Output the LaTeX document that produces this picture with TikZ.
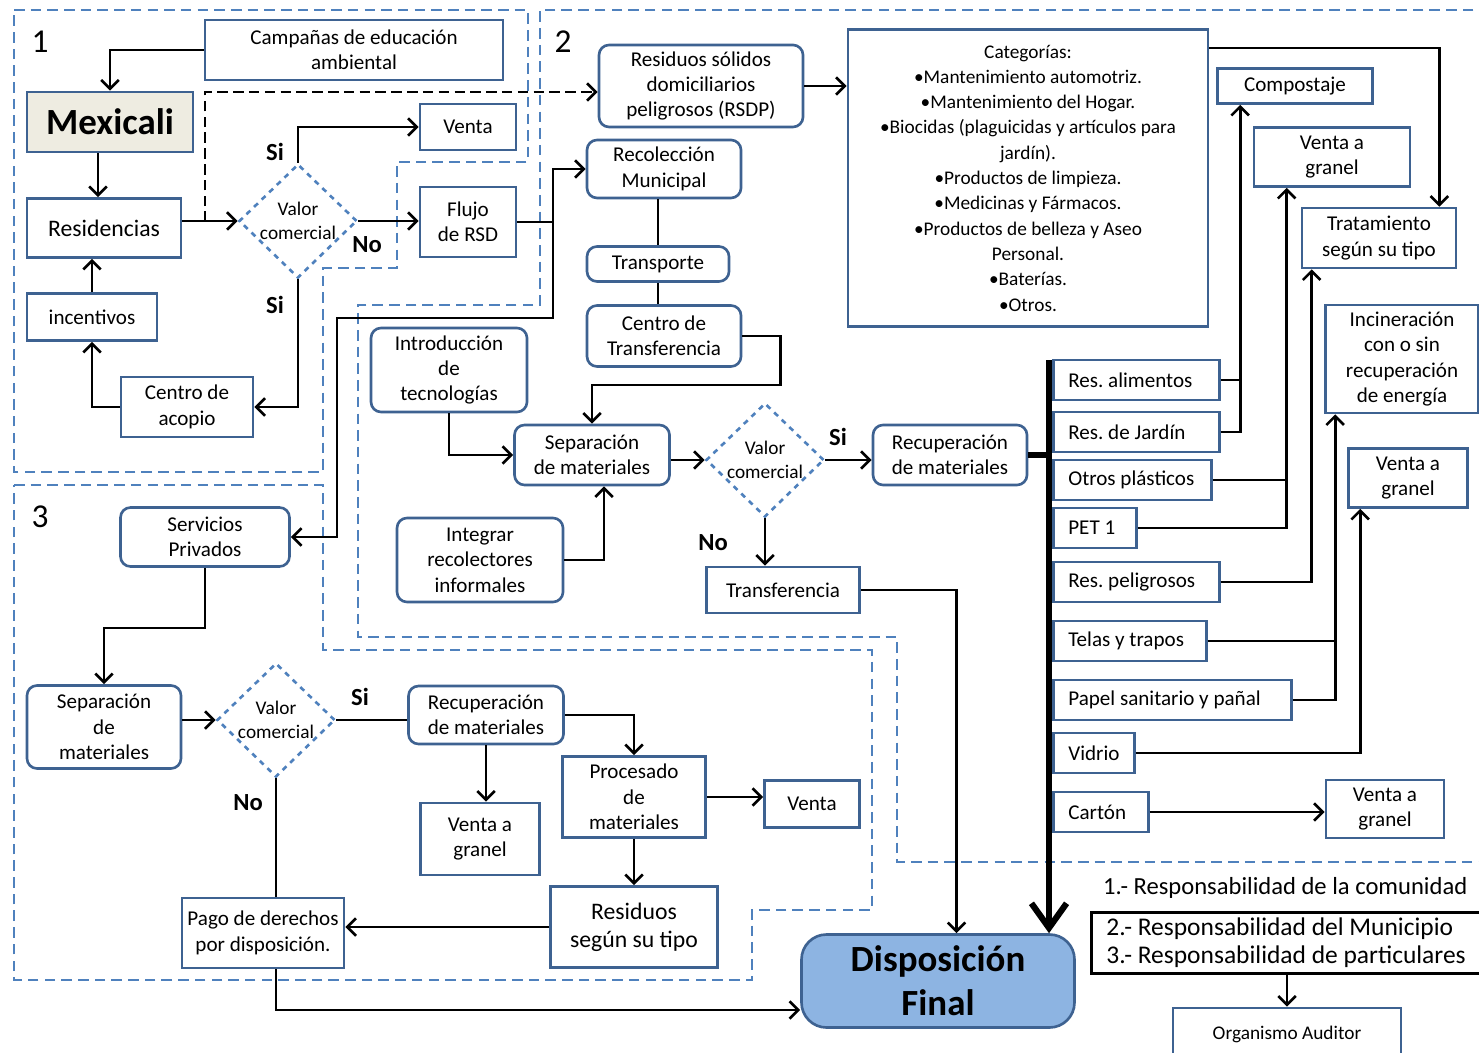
\documentclass[tikz,border=0pt]{standalone}
\usepackage{fontspec}
\setmainfont{Carlito}
\usetikzlibrary{positioning, arrows.meta, shapes.geometric}
\usepackage{xcolor}
\definecolor{boxblue}{RGB}{62,98,145}
\definecolor{regionblue}{RGB}{79,129,189}
\definecolor{mexfill}{RGB}{238,236,225}
\definecolor{dispfill}{RGB}{141,180,226}
\frenchspacing

\begin{document}
\begin{tikzpicture}[x=0.02cm, y=-0.02cm]
  \tikzset{
    boxsize/.style 2 args={
      minimum width=#1*0.02cm,
      minimum height=#2*0.02cm
    },
    box/.style={
      draw=boxblue,
      line width=1.5pt,
      fill=white,
      align=center,
      inner sep=1pt,
      font=\fontsize{12}{14.5}\selectfont
    },
    rbox/.style={
      box,
      rounded corners=0.2cm
    },
    material/.style={
      box,
      anchor=west,
      align=flush left,
      inner xsep=0.3cm,
      minimum height=0.8cm,
      text width=#1cm
    },
    decision/.style={
      diamond,
      draw=regionblue,
      dashed,
      line width=1.5pt,
      fill=white,
      align=center,
      inner sep=0pt,
      boxsize={118}{114},
      font=\fontsize{11}{13.5}\selectfont
    },
    region/.style={
      draw=regionblue,
      line width=1.3pt,
      dash pattern=on 6pt off 3.5pt
    },
    link/.style={line width=1.5pt},
    flow/.style={link, -{Straight Barb[length=5pt,width=10pt]}},
    answer/.style={font=\bfseries\fontsize{14}{16}\selectfont},
    zone/.style={font=\fontsize{19}{22}\selectfont}
  }

  \useasboundingbox (0,0) rectangle (1479,1053);
  \fill[white] (0,0) rectangle (1479,1053);

  % Dashed zones of responsibility
  \draw[region] (14,10) -- (528,10) -- (528,162) -- (397,162) -- (397,268)
    -- (323,268) -- (323,472) -- (14,472) -- cycle;
  \draw[region] (1490,10) -- (540,10) -- (540,305) -- (358,305) -- (358,637)
    -- (897,637) -- (897,862) -- (1490,862);
  \draw[region] (14,485) -- (323,485) -- (323,650) -- (872,650) -- (872,910)
    -- (752,910) -- (752,980) -- (14,980) -- cycle;

  \node[zone] (num1) at (40,42) {1};
  \node[zone] (num2) at (563,42) {2};
  \node[zone] (num3) at (40,517) {3};

  % Zone 1: community
  \node[box, boxsize={298}{60}] (campanas) at (354,50) {Campañas de educación\\ambiental};
  \node[box, boxsize={166}{60}, fill=mexfill, font=\bfseries\fontsize{21}{24}\selectfont] (mexicali) at (110,122) {Mexicali};
  \node[box, boxsize={154}{59}, font=\fontsize{13.5}{15}\selectfont] (residencias) at (104,228) {Residencias};
  \node[box, boxsize={130}{47}] (incentivos) at (92,317) {incentivos};
  \node[box, boxsize={132}{60}] (acopio) at (187,407) {Centro de\\acopio};
  \node[decision] (valorA) at (298,221) {Valor\\comercial};
  \node[box, boxsize={96}{46}] (ventaA) at (468,127) {Venta};
  \node[box, boxsize={96}{70}] (flujo) at (468,222) {Flujo\\de RSD};

  \node[answer] (siA) at (275,152) {Si};
  \node[answer] (noA) at (367,245) {No};
  \node[answer] (siB) at (275,305) {Si};

  % Zone 3: private services
  \node[rbox, boxsize={169}{59}] (servicios) at (205,537) {Servicios\\Privados};
  \node[rbox, boxsize={154}{83}] (separacionC) at (104,727) {Separación\\de\\materiales};
  \node[decision] (valorC) at (276,720) {Valor\\comercial};
  \node[rbox, boxsize={155}{58}] (recuperacionC) at (486,715) {Recuperación\\de materiales};
  \node[box, boxsize={119}{72}] (granelD) at (480,839) {Venta a\\granel};
  \node[box, boxsize={143}{81}] (procesado) at (634,797) {Procesado\\de\\materiales};
  \node[box, boxsize={95}{47}] (ventaC) at (812,804) {Venta};
  \node[box, boxsize={167}{81}, font=\fontsize{13.5}{16}\selectfont] (residuos) at (634,927) {Residuos\\según su tipo};
  \node[box, boxsize={162}{70}] (pago) at (263,933) {Pago de derechos\\por disposición.};
  \node[rbox, boxsize={273}{93}, fill=dispfill, rounded corners=0.5cm, font=\bfseries\fontsize{21}{25}\selectfont] (disposicion) at (938,981) {Disposición\\Final};

  \node[answer] (siC) at (360,697) {Si};
  \node[answer] (noC) at (248,803) {No};

  % Zone 2: municipality
  \node[rbox, boxsize={204}{82}] (rsdp) at (701,86) {Residuos sólidos\\domiciliarios\\peligrosos (RSDP)};
  \node[box, boxsize={360}{297}, font=\fontsize{11}{14.4}\selectfont] (categorias) at (1028,178) {Categorías:\\
    •Mantenimiento automotriz.\\
    •Mantenimiento del Hogar.\\
    •Biocidas (plaguicidas y artículos para\\
    jardín).\\
    •Productos de limpieza.\\
    •Medicinas y Fármacos.\\
    •Productos de belleza y Aseo\\
    Personal.\\
    •Baterías.\\
    •Otros.};
  \node[rbox, boxsize={154}{58}] (recoleccion) at (664,169) {Recolección\\Municipal};
  \node[rbox, boxsize={142}{35}] (transporte) at (658,264) {Transporte};
  \node[rbox, boxsize={154}{61}] (centrotrans) at (664,336) {Centro de\\Transferencia};
  \node[rbox, boxsize={156}{84}] (introduccion) at (449,370) {Introducción\\de\\tecnologías};
  \node[rbox, boxsize={155}{60}] (separacionB) at (592,455) {Separación\\de materiales};
  \node[rbox, boxsize={166}{84}] (integrar) at (480,560) {Integrar\\recolectores\\informales};
  \node[decision] (valorB) at (765,460) {Valor\\comercial};
  \node[rbox, boxsize={154}{60}] (recuperacionB) at (950,455) {Recuperación\\de materiales};
  \node[box, boxsize={153}{46}] (transferencia) at (783,590) {Transferencia};

  \node[answer] (siD) at (838,437) {Si};
  \node[answer] (noD) at (713,543) {No};

  % Destinations of the separated materials
  \node[box, boxsize={155}{35}] (compostaje) at (1295,86) {Compostaje};
  \node[box, boxsize={156}{59}] (granelA) at (1332,157) {Venta a\\granel};
  \node[box, boxsize={154}{60}] (tratamiento) at (1379,238) {Tratamiento\\según su tipo};
  \node[box, boxsize={153}{108}] (incineracion) at (1402,359) {Incineración\\con o sin\\recuperación\\de energía};
  \node[box, boxsize={119}{59}] (granelB) at (1408,478) {Venta a\\granel};
  \node[box, boxsize={118}{58}] (granelC) at (1385,809) {Venta a\\granel};

  % Thick collector line down to the final disposal
  \coordinate (bustop) at (1049,360);
  \draw[line width=3.5pt, -{Straight Barb[length=14pt,width=20pt]}] (bustop) -- (bustop |- disposicion.north);
  \draw[line width=3pt] (recuperacionB.east) -- (recuperacionB.east -| bustop);

  % Material boxes
  \node[material=2.72] (alimentos) at (1052,380) {Res. alimentos};
  \node[material=2.72] (jardin) at (1052,432) {Res. de Jardín};
  \node[material=2.56] (plasticos) at (1052,480) {Otros plásticos};
  \node[material=1.06] (pet) at (1052,528) {PET 1};
  \node[material=2.72] (peligrosos) at (1052,582) {Res. peligrosos};
  \node[material=2.46] (telas) at (1052,641) {Telas y trapos};
  \node[material=4.16] (papel) at (1052,700) {Papel sanitario y pañal};
  \node[material=1.02] (vidrio) at (1052,753) {Vidrio};
  \node[material=1.30] (carton) at (1052,812) {Cartón};

  % Legend
  \node[anchor=west, font=\fontsize{14}{16}\selectfont] (resp1) at (1097,888) {1.- Responsabilidad de la comunidad};
  \node[draw, line width=1.5pt, fill=white, anchor=west, align=flush left, inner xsep=0.3cm, text width=7.6cm, minimum height=1.2cm, font=\fontsize{14.5}{16}\selectfont] (legend) at (1090,943) {2.- Responsabilidad del Municipio\\3.- Responsabilidad de particulares};
  \node[box, boxsize={228}{52}, font=\fontsize{11}{13}\selectfont] (auditor) at (1287,1034) {Organismo Auditor};

  % Connectors, zone 1
  \draw[flow] (campanas.west) -| (mexicali.north);
  \draw[flow] ([xshift=-0.24cm]mexicali.south) -- ([xshift=-0.24cm]mexicali.south |- residencias.north);
  \draw[flow] (residencias.east |- valorA.west) -- (valorA.west);
  \draw[flow] (valorA.north) |- (ventaA.west);
  \draw[flow] (valorA.east) -- (valorA.east -| flujo.west);
  \draw[flow] (valorA.south) |- (acopio.east);
  \draw[flow] (acopio.west) -| (incentivos.south);
  \draw[flow] (incentivos.north) -- (incentivos.north |- residencias.south);
  \coordinate (split) at (205,222);
  \draw[flow, dash pattern=on 6pt off 3pt] (split) |- ([yshift=-0.12cm]rsdp.west);

  % Connectors from the RSD flow
  \coordinate (jflujo) at (553,222);
  \coordinate (jpriv) at (337,318);
  \draw[link] (flujo.east) -- (jflujo);
  \draw[flow] (jflujo) |- (recoleccion.west);
  \draw[flow] (jflujo) |- (jpriv) |- (servicios.east);

  % Connectors, zone 2
  \draw[flow] (rsdp.east) -- (rsdp.east -| categorias.west);
  \draw[flow] ([yshift=-0.4cm]categorias.north east) -| ([xshift=-0.36cm]tratamiento.north east);
  \draw[link] (transporte.north |- recoleccion.south) -- (transporte.north);
  \draw[link] (transporte.south) -- (transporte.south |- centrotrans.north);
  \draw[flow] (centrotrans.east) -- ++(38,0) -- ++(0,49) -| (separacionB.north);
  \draw[flow] (introduccion.south) |- (separacionB.west);
  \draw[flow] (integrar.east) -| ([xshift=0.24cm]separacionB.south);
  \draw[flow] (separacionB.east |- valorB.west) -- (valorB.west);
  \draw[flow] (valorB.east) -- (valorB.east -| recuperacionB.west);
  \draw[flow] (valorB.south) -- (valorB.south |- transferencia.north);
  \draw[flow] (transferencia.east) -| ([xshift=0.37cm]disposicion.north);

  % Connectors to the destinations
  \coordinate (colcompost) at ([xshift=0.48cm]compostaje.south west);
  \coordinate (colgranelA) at ([xshift=0.68cm]granelA.south west);
  \coordinate (coltrat) at ([xshift=0.22cm]tratamiento.south west);
  \coordinate (colincin) at ([xshift=0.22cm]incineracion.south west);
  \coordinate (colgranelB) at ([xshift=0.26cm]granelB.south west);
  \draw[link] (alimentos.east) -- (alimentos.east -| colcompost);
  \draw[flow] (jardin.east) -| (colcompost);
  \draw[link] (plasticos.east) -- (plasticos.east -| colgranelA);
  \draw[flow] (pet.east) -| (colgranelA);
  \draw[flow] (peligrosos.east) -| (coltrat);
  \draw[link] (telas.east) -- (telas.east -| colincin);
  \draw[flow] (papel.east) -| (colincin);
  \draw[flow] (vidrio.east) -| (colgranelB);
  \draw[flow] (carton.east) -- (carton.east -| granelC.west);

  % Connectors, zone 3
  \draw[flow] (servicios.south) -- ++(0,60) -| (separacionC.north);
  \draw[flow] (separacionC.east |- valorC.west) -- (valorC.west);
  \draw[link] (valorC.east) -- (valorC.east -| recuperacionC.west);
  \draw[flow] (recuperacionC.east) -| (procesado.north);
  \draw[flow] (recuperacionC.south) -- (recuperacionC.south |- granelD.north);
  \draw[flow] (procesado.east) -- (procesado.east -| ventaC.west);
  \draw[flow] (procesado.south) -- (residuos.north);
  \draw[flow] (residuos.west) -- (residuos.west -| pago.east);
  \draw[link] (valorC.south) -- (valorC.south |- pago.north);
  \draw[flow] (valorC.south |- pago.south) |- ([yshift=-0.58cm]disposicion.west);

  % Legend to auditor
  \draw[flow] (legend.south -| auditor.north) -- (auditor.north);

\end{tikzpicture}
\end{document}
